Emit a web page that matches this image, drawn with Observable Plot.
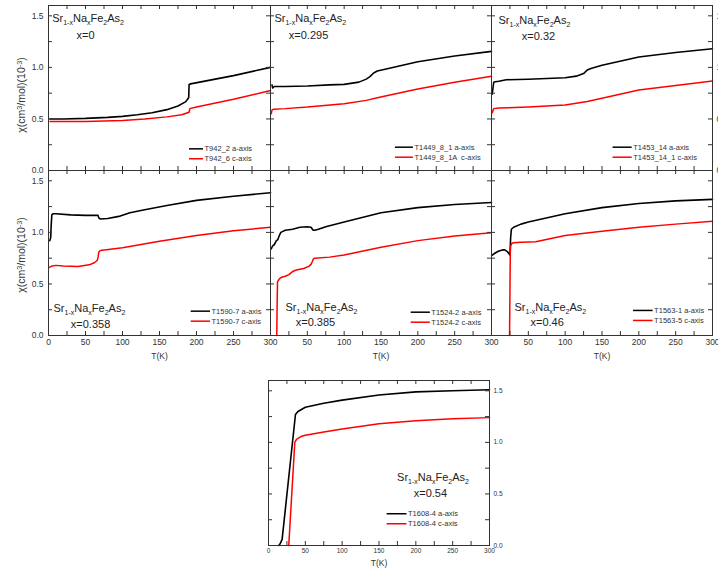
<!DOCTYPE html>
<html><head><meta charset="utf-8">
<script src="https://cdn.jsdelivr.net/npm/d3@7"></script>
<script src="https://cdn.jsdelivr.net/npm/@observablehq/plot@0.6"></script>
<style>
html,body{margin:0;padding:0;background:#fff;}
#root{position:relative;width:718px;height:571px;overflow:hidden;font-family:"Liberation Sans",Arial,sans-serif;color:#333;}
#root svg{position:absolute;overflow:visible;}
.ylab{position:absolute;white-space:nowrap;font-size:10.5px;transform:translate(-50%,-50%) rotate(-90deg);}
.ylab sup{font-size:70%;vertical-align:0.45em;line-height:0;}
</style></head><body><div id="root"></div>
<script>
// ---- data (T in K, chi in 10^-3 cm^3/mol) ----
const T_x0_a   = [2, 20, 50, 80, 100, 120, 140, 160, 175, 185, 188, 189.5, 190, 192, 250, 300];
const chi_x0_a = [0.50, 0.50, 0.505, 0.515, 0.525, 0.54, 0.56, 0.59, 0.625, 0.665, 0.69, 0.71, 0.835, 0.84, 0.92, 1.0];
const T_x0_c   = [2, 50, 100, 130, 160, 180, 188, 190, 191, 200, 250, 300];
const chi_x0_c = [0.475, 0.475, 0.485, 0.50, 0.52, 0.54, 0.56, 0.565, 0.60, 0.615, 0.69, 0.775];

const T_x0295_a   = [2, 3, 5, 20, 50, 80, 100, 120, 130, 135, 140, 145, 160, 200, 250, 300];
const chi_x0295_a = [0.83, 0.80, 0.815, 0.815, 0.82, 0.83, 0.835, 0.857, 0.886, 0.91, 0.945, 0.965, 0.99, 1.055, 1.11, 1.155];
const T_x0295_c   = [1, 2, 4, 20, 50, 100, 130, 145, 170, 200, 250, 300];
const chi_x0295_c = [0.55, 0.585, 0.595, 0.60, 0.615, 0.648, 0.68, 0.705, 0.745, 0.79, 0.855, 0.915];

const T_x032_a   = [1, 2, 3, 5, 10, 20, 50, 100, 115, 125, 130, 135, 150, 200, 250, 300];
const chi_x032_a = [0.74, 0.80, 0.855, 0.86, 0.865, 0.88, 0.885, 0.90, 0.915, 0.94, 0.975, 0.99, 1.02, 1.10, 1.145, 1.18];
const T_x032_c   = [1, 3, 10, 50, 100, 130, 150, 200, 250, 300];
const chi_x032_c = [0.56, 0.60, 0.605, 0.615, 0.635, 0.67, 0.70, 0.78, 0.825, 0.867];

const T_x0358_a   = [1.8, 3, 3.5, 4.5, 6, 10, 30, 50, 67, 68, 70, 80, 95, 110, 130, 160, 200, 250, 300];
const chi_x0358_a = [0.92, 0.95, 1.05, 1.17, 1.18, 1.18, 1.17, 1.165, 1.165, 1.14, 1.13, 1.135, 1.155, 1.19, 1.22, 1.26, 1.31, 1.35, 1.385];
const T_x0358_c   = [1, 5, 10, 20, 40, 55, 62, 66, 67, 68, 70, 100, 150, 200, 250, 300];
const chi_x0358_c = [0.66, 0.675, 0.68, 0.675, 0.67, 0.685, 0.705, 0.73, 0.76, 0.81, 0.825, 0.85, 0.915, 0.97, 1.015, 1.05];

const T_x0385_a   = [1, 3, 5, 8, 10, 12, 14, 20, 30, 40, 50, 55, 58, 60, 65, 75, 100, 150, 200, 250, 300];
const chi_x0385_a = [0.84, 0.87, 0.88, 0.92, 0.93, 0.97, 1.0, 1.02, 1.03, 1.05, 1.055, 1.05, 1.02, 1.02, 1.03, 1.055, 1.10, 1.19, 1.24, 1.27, 1.29];
const T_x0385_c   = [8.5, 9, 9.5, 12, 15, 20, 25, 30, 35, 45, 52, 55, 57, 58, 60, 80, 100, 150, 200, 250, 300];
const chi_x0385_c = [0, 0.3, 0.52, 0.55, 0.565, 0.575, 0.59, 0.62, 0.635, 0.65, 0.67, 0.69, 0.72, 0.74, 0.75, 0.76, 0.78, 0.855, 0.92, 0.965, 0.997];

const T_x046_a   = [1, 5, 10, 15, 18, 22, 24, 25, 26, 27, 30, 40, 50, 100, 150, 200, 250, 300];
const chi_x046_a = [0.78, 0.80, 0.82, 0.83, 0.83, 0.81, 0.79, 0.78, 0.95, 1.03, 1.05, 1.08, 1.10, 1.18, 1.24, 1.28, 1.305, 1.32];
const T_x046_c   = [24.5, 25, 25.5, 26, 28, 30, 40, 60, 100, 150, 200, 250, 300];
const chi_x046_c = [0, 0.4, 0.8, 0.87, 0.895, 0.90, 0.905, 0.91, 0.97, 1.01, 1.05, 1.08, 1.107];

const T_x054_a   = [14, 16, 18.5, 36.6, 40, 50, 75, 100, 150, 200, 250, 300];
const chi_x054_a = [0, 0.02, 0.06, 1.27, 1.30, 1.34, 1.38, 1.41, 1.46, 1.49, 1.50, 1.51];
const T_x054_c   = [27.5, 35.7, 38, 45, 50, 75, 100, 150, 200, 250, 300];
const chi_x054_c = [0, 1.0, 1.03, 1.06, 1.07, 1.10, 1.13, 1.18, 1.21, 1.23, 1.24];

// legend labels
const legendA = ["T942_2 a-axis", "T1449_8_1 a-axis", "T1453_14 a-axis", "T1590-7 a-axis", "T1524-2 a-axis", "T1563-1 a-axis", "T1608-4 a-axis"];
const legendC = ["T942_6 c-axis", "T1449_8_1A  c-axis", "T1453_14_1 c-axis", "T1590-7 c-axis", "T1524-2 c-axis", "T1563-5 c-axis", "T1608-4 c-axis"];
const compositions = ["x=0", "x=0.295", "x=0.32", "x=0.358", "x=0.385", "x=0.46", "x=0.54"];
const FORMULA = "Sr1-xNaxFe2As2";

// axis ticks
const xLabelTicks = [0, 50, 100, 150, 200, 250, 300];
const xLabelTicksInner = [50, 100, 150, 200, 250, 300];
const xMarkTicks = [25, 50, 75, 100, 125, 150, 175, 200, 225, 250, 275];
const yLabelTicks = [0, 0.5, 1.0, 1.5];
const yMarkTicks = [0.25, 0.5, 0.75, 1.0, 1.25, 1.5];

const series = [
  [T_x0_a, chi_x0_a, T_x0_c, chi_x0_c],
  [T_x0295_a, chi_x0295_a, T_x0295_c, chi_x0295_c],
  [T_x032_a, chi_x032_a, T_x032_c, chi_x032_c],
  [T_x0358_a, chi_x0358_a, T_x0358_c, chi_x0358_c],
  [T_x0385_a, chi_x0385_a, T_x0385_c, chi_x0385_c],
  [T_x046_a, chi_x046_a, T_x046_c, chi_x046_c],
  [T_x054_a, chi_x054_a, T_x054_c, chi_x054_c]
];

// layout (annotation placement in data units)
const layout = [
  {left:48,  top:5,   w:222, h:165, xAxis:null, yAxis:"left",  fs:8.5, form:[5, 1.47],   comp:[50, 1.31],   leg:[190.5, 209.5, 0.21, 0.114]},
  {left:270, top:5,   w:221, h:165, xAxis:null, yAxis:null,    fs:8.5, form:[5.4, 1.475], comp:[51.6, 1.31], leg:[169.6, 194, 0.226, 0.129]},
  {left:491, top:5,   w:221, h:165, xAxis:null, yAxis:"right", fs:8.5, form:[9.5, 1.456], comp:[63.8, 1.30], leg:[165, 191, 0.226, 0.129]},
  {left:48,  top:170, w:222, h:165, xAxis:xLabelTicks,      yAxis:"left",  fs:8.5, form:[6.8, 0.262], comp:[56.8, 0.107], leg:[192.8, 218.9, 0.236, 0.139], tk:23},
  {left:270, top:170, w:221, h:165, xAxis:xLabelTicksInner, yAxis:null,    fs:8.5, form:[20.4, 0.275], comp:[61, 0.13],  leg:[191, 217, 0.226, 0.129], tk:23},
  {left:491, top:170, w:221, h:165, xAxis:xLabelTicksInner, yAxis:null,    fs:8.5, form:[31.2, 0.275], comp:[75.6, 0.13], leg:[192.7, 219.4, 0.243, 0.146], tk:23},
  {left:268, top:380, w:221, h:165, xAxis:xLabelTicks,      yAxis:"right", fs:6.5, form:[174.6, 0.663], comp:[219.8, 0.505], leg:[161, 188, 0.308, 0.211], tk:20}
];

const root = document.getElementById("root");
const mL = 50, mR = 30, mT = 10, mB = 40;

layout.forEach((L, i) => {
  const [Ta, ca, Tc, cc] = series[i];
  const a = Ta.map((T, k) => ({T, chi: ca[k]}));
  const c = Tc.map((T, k) => ({T, chi: cc[k]}));
  const [lx1, lx2, ly1, ly2] = L.leg;
  const legend = [
    {x1: lx1, x2: lx2, y: ly1, label: legendA[i], color: "#000"},
    {x1: lx1, x2: lx2, y: ly2, label: legendC[i], color: "#ff0000"}
  ];
  const marks = [
    Plot.line(a, {x: "T", y: "chi", stroke: "#000", strokeWidth: 1.6}),
    Plot.line(c, {x: "T", y: "chi", stroke: "#ff0000", strokeWidth: 1.5}),
    Plot.frame({stroke: "#333", strokeWidth: 1}),
    Plot.tickX(xMarkTicks, {x: d => d, insetTop: L.h - 4, stroke: "#333"}),
    Plot.tickX(xMarkTicks, {x: d => d, insetBottom: L.h - 4, stroke: "#333"}),
    Plot.tickY(yMarkTicks, {y: d => d, insetRight: L.w - 4, stroke: "#333"}),
    Plot.tickY(yMarkTicks, {y: d => d, insetLeft: L.w - 4, stroke: "#333"}),
    Plot.ruleY(legend, {x1: "x1", x2: "x2", y: "y", stroke: "color", strokeWidth: 1.5}),
    Plot.text(legend, {x: "x2", y: "y", text: "label", textAnchor: "start", dx: 1, fontSize: 7.5, fill: "#333"}),
    Plot.text([{T: L.form[0], chi: L.form[1]}], {x: "T", y: "chi", text: () => FORMULA, textAnchor: "start", fontSize: 11, fill: "#222"}),
    Plot.text([{T: L.comp[0], chi: L.comp[1], s: compositions[i]}], {x: "T", y: "chi", text: "s", textAnchor: "middle", fontSize: 11, fill: "#222"})
  ];
  if (L.xAxis) marks.push(Plot.text(["T(K)"], {frameAnchor: "bottom", text: d => d, dy: L.tk, fontSize: 8.5, fill: "#333"}));
  const svg = Plot.plot({
    width: L.w + mL + mR, height: L.h + mT + mB,
    marginLeft: mL, marginRight: mR, marginTop: mT, marginBottom: mB,
    style: `background: transparent; overflow: visible; font-size: ${L.fs}px; font-family: 'Liberation Sans', Arial, sans-serif; color: #333; max-width: none;`,
    x: {domain: [0, 300], axis: L.xAxis ? "bottom" : null, ticks: L.xAxis || xLabelTicks, tickSize: 0, tickPadding: 3, label: null, tickFormat: d => String(d)},
    y: {domain: [0, 1.6], axis: L.yAxis, ticks: yLabelTicks, tickSize: 0, tickPadding: L.yAxis === "left" ? 5 : 4, label: null, tickFormat: d3.format(".1f")},
    marks
  });
  svg.style.left = (L.left - mL) + "px";
  svg.style.top = (L.top - mT) + "px";
  // subscripts for the chemical formula
  d3.select(svg).selectAll("text").filter(function() { return this.textContent === FORMULA; }).each(function() {
    const t = d3.select(this);
    t.text(null);
    const parts = [["Sr", 0], ["1-x", 1], ["Na", 0], ["x", 1], ["Fe", 0], ["2", 1], ["As", 0], ["2", 1]];
    let prevSub = false;
    parts.forEach(([s, sub]) => {
      const sp = t.append("tspan").text(s);
      if (sub) { sp.attr("font-size", "7px").attr("dy", prevSub ? 0 : 3); }
      else if (prevSub) { sp.attr("dy", -3); }
      prevSub = !!sub;
    });
  });
  root.appendChild(svg);
});

// y axis titles
[[21, 95], [21, 255]].forEach(([x, y]) => {
  const d = document.createElement("div");
  d.className = "ylab";
  d.style.left = x + "px";
  d.style.top = y + "px";
  d.innerHTML = "χ(cm<sup>3</sup>/mol)(10<sup>-3</sup>)";
  root.appendChild(d);
});
</script></body></html>
